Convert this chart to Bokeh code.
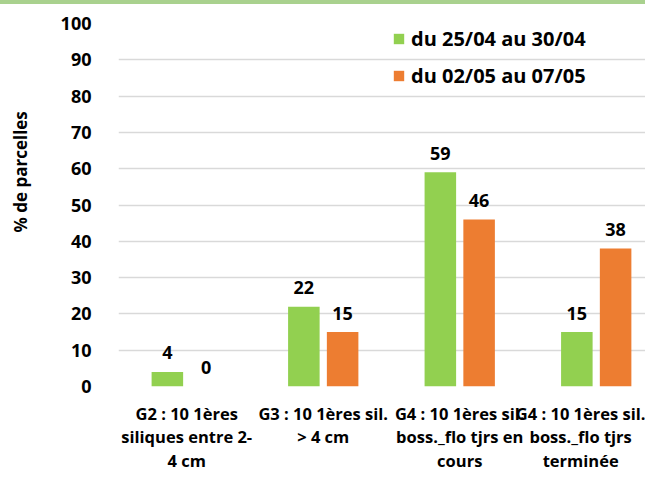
from bokeh.plotting import figure
from bokeh.models import (ColumnDataSource, Range1d, FixedTicker, Legend, LegendItem)
from bokeh.core.properties import value
from bokeh.embed import file_html
from bokeh.resources import INLINE

categories = [
    "G2 : 10 1ères\nsiliques entre 2-\n4 cm",
    "G3 : 10 1ères sil.\n> 4 cm",
    "G4 : 10 1ères sil.\nboss._flo tjrs en\ncours",
    "G4 : 10 1ères sil.\nboss._flo tjrs\nterminée",
]
series_names = ["du 25/04 au 30/04", "du 02/05 au 07/05"]
values_s1 = [4, 22, 59, 15]
values_s2 = [0, 15, 46, 38]
y_ticks = [0, 10, 20, 30, 40, 50, 60, 70, 80, 90, 100]
y_title = "% de parcelles"

GREEN = "#92d050"
ORANGE = "#ed7d31"
FONT = "Open Sans"

idx = list(range(len(categories)))
off = 0.142
bw = 0.231

src1 = ColumnDataSource(dict(x=[i - off for i in idx], top=values_s1, lab=[str(v) for v in values_s1]))
src2 = ColumnDataSource(dict(x=[i + off for i in idx], top=values_s2, lab=[str(v) for v in values_s2]))

p = figure(width=645, height=478, output_backend="svg", toolbar_location=None,
           x_range=Range1d(-0.5, 3.361), y_range=Range1d(0, 100),
           min_border_left=118, min_border_right=0, min_border_top=19, min_border_bottom=96,
           styles={"border-top": "4px solid #a9d18e"})
p.outline_line_color = None
p.background_fill_color = "white"
p.border_fill_color = "white"

r1 = p.vbar(x="x", top="top", width=bw, source=src1, fill_color=GREEN, line_color=None)
r2 = p.vbar(x="x", top="top", width=bw, source=src2, fill_color=ORANGE, line_color=None)

for s in (src1, src2):
    p.text(x="x", y="top", text="lab", source=s, text_align="center", text_baseline="alphabetic",
           y_offset=-19, text_font=value(FONT), text_font_style="bold", text_font_size="18px",
           text_color="black")

# axes
p.xaxis.ticker = FixedTicker(ticks=idx)
p.xaxis.major_label_overrides = {i: c for i, c in zip(idx, categories)}
p.xaxis.axis_line_color = None
p.xaxis.major_tick_line_color = None
p.xaxis.minor_tick_line_color = None
p.xaxis.major_label_text_font = FONT
p.xaxis.major_label_text_font_style = "bold"
p.xaxis.major_label_text_font_size = "16.5px"
p.xaxis.major_label_text_color = "black"
p.xaxis.major_label_text_line_height = 1.03
p.xaxis.major_label_standoff = 9

p.yaxis.ticker = FixedTicker(ticks=y_ticks)
p.yaxis.axis_line_color = None
p.yaxis.major_tick_line_color = None
p.yaxis.minor_tick_line_color = None
p.yaxis.major_label_text_font = FONT
p.yaxis.major_label_text_font_style = "bold"
p.yaxis.major_label_text_font_size = "18px"
p.yaxis.major_label_text_color = "black"
p.yaxis.major_label_standoff = 21

# axis title, shifted towards the top with leading non-breaking spaces (text reads bottom-up)
p.yaxis.axis_label = "\u00a0" * 15 + y_title
p.yaxis.axis_label_text_font = FONT
p.yaxis.axis_label_text_font_style = "bold"
p.yaxis.axis_label_text_font_size = "17px"
p.yaxis.axis_label_text_color = "black"
p.yaxis.axis_label_standoff = 26

p.xgrid.grid_line_color = None
p.ygrid.grid_line_color = "#d9d9d9"
p.ygrid.grid_line_width = 1.4

legend = Legend(items=[LegendItem(label=series_names[0], renderers=[r1]),
                       LegendItem(label=series_names[1], renderers=[r2])],
                location=(274, 297), orientation="vertical",
                glyph_width=13, glyph_height=13, label_standoff=6, spacing=10,
                padding=0, margin=0, border_line_color=None, background_fill_alpha=0,
                label_text_font=FONT, label_text_font_style="bold", label_text_font_size="20px",
                label_text_color="black")
p.add_layout(legend, "center")

open("out.html", "w").write(file_html(p, INLINE))
